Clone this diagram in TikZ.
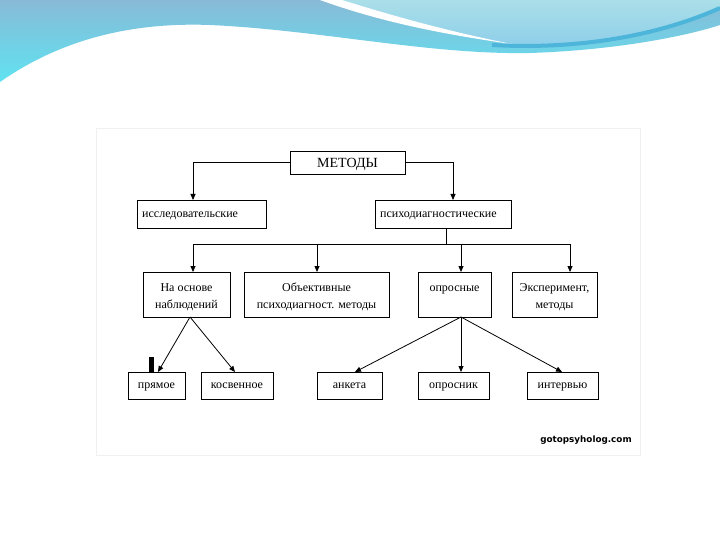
\documentclass[tikz,border=0pt]{standalone}
\usepackage{fontspec}
\setmainfont{Liberation Serif}
\newfontfamily\wmfont{DejaVu Sans}
\usetikzlibrary{arrows.meta}
\definecolor{bluetop}{HTML}{88BAD7}
\definecolor{bluebot}{HTML}{5FE3F1}
\definecolor{lighttop}{HTML}{AADFE8}
\definecolor{lightbot}{HTML}{8CCDEA}
\definecolor{darkarc}{HTML}{4CB5D9}
\definecolor{framegray}{HTML}{F0F0F0}
\begin{document}
\begin{tikzpicture}[x=1pt,y=-1pt,
  box/.style={draw=black, line width=0.9pt, inner sep=0pt, outer sep=0pt,
    font=\fontsize{12}{17}\selectfont, text height=5.5pt, text depth=0pt},
  mbox/.style={box, align=center, text height=27pt, text depth=0pt},
  lbl/.style={inner sep=0pt, font=\fontsize{12}{17}\selectfont},
  conn/.style={line width=0.8pt},
  arr/.style={conn, -{Triangle[length=6pt,width=5pt]}}]
\useasboundingbox (0,0) rectangle (720,540);
\fill[white] (0,0) rectangle (720,540);
% background wave
\shade[top color=bluetop, bottom color=bluebot]
  (0,0) -- (720,0) -- (720,25) .. controls (690,35) and (620,50) .. (530,53)
  .. controls (430,55) and (320,30) .. (210,25)
  .. controls (130,22) and (60,40) .. (0,82) -- cycle;
\shade[top color=lighttop, bottom color=lightbot]
  (340,0) -- (720,0) -- (720,8) .. controls (660,35) and (570,50) .. (505,44)
  .. controls (450,32) and (390,15) .. (340,0) -- cycle;
\fill[white] (320,0) -- (342,0) .. controls (390,15) and (450,32) .. (512,44)
  .. controls (440,34) and (378,21) .. (320,0) -- cycle;
\draw[darkarc, line width=4pt] (492,45) .. controls (580,50) and (660,35) .. (720,8);
% frame of the scanned image
\draw[framegray, line width=0.8pt] (96,128) rectangle (640,455);
% nodes
\node[box, minimum width=115, minimum height=23, font=\fontsize{14}{16}\selectfont, text height=9.5pt, text depth=0pt] (m) at (347.5,162.5) {МЕТОДЫ};
\node[box, minimum width=129, minimum height=28] (issl) at (201.5,214) {};
\node[lbl, anchor=base west] (issllbl) at ([xshift=5,yshift=-4]issl.west) {исследовательские};
\node[box, minimum width=136, minimum height=28] (psy) at (443,214) {};
\node[lbl, anchor=base west] (psylbl) at ([xshift=5,yshift=-4]psy.west) {психодиагностические};
\node[mbox, minimum width=87, minimum height=45] (nabl) at (186.5,294.5) {На основе\\наблюдений};
\node[mbox, minimum width=145, minimum height=45] (obj) at (316.5,294.5) {Объективные\\психодиагност. методы};
\node[mbox, minimum width=73, minimum height=45] (opr) at (454.5,294.5) {опросные\\\strut};
\node[mbox, minimum width=85, minimum height=45] (exp) at (554.5,294.5) {Эксперимент,\\методы};
\node[box, minimum width=57, minimum height=27] (pr) at (156.5,385.5) {прямое};
\node[box, minimum width=72, minimum height=27] (kos) at (237,385.5) {косвенное};
\node[box, minimum width=65, minimum height=27] (ank) at (349.5,385.5) {анкета};
\node[box, minimum width=71, minimum height=27] (opn) at (453.5,385.5) {опросник};
\node[box, minimum width=71, minimum height=27] (int) at (562.5,385.5) {интервью};
\node[font=\wmfont\bfseries\fontsize{8.8}{10}\selectfont, inner sep=0pt] (wm) at (586,440) {gotopsyholog.com};
% scan artefact
\fill[black] (149,357) rectangle (154,372);
% connectors
\coordinate (c1) at (193,162.5);
\coordinate (c2) at (453,162.5);
\draw[arr] (m.west) -- (c1) -- (c1 |- issl.north);
\draw[arr] (m.east) -- (c2) -- (c2 |- psy.north);
\coordinate (bus) at (446,244);
\coordinate (busL) at (193,244);
\coordinate (busR) at (570,244);
\draw[conn] (psy.south -| bus) -- (bus);
\draw[conn] (busL) -- (busR);
\draw[arr] (busL) -- (busL |- nabl.north);
\draw[arr] (317,244) -- (obj.north -| 317,0);
\draw[arr] (461,244) -- (opr.north -| 461,0);
\draw[arr] (busR) -- (busR |- exp.north);
\coordinate (n1) at (190,317);
\coordinate (o1) at (461,317);
\draw[arr] (n1) -- (pr.north -| 158,0);
\draw[arr] (n1) -- (kos.north -| 235,0);
\draw[arr] (o1) -- (ank.north -| 355,0);
\draw[arr] (o1) -- (opn.north -| 461,0);
\draw[arr] (o1) -- (int.north -| 562,0);
\end{tikzpicture}
\end{document}
